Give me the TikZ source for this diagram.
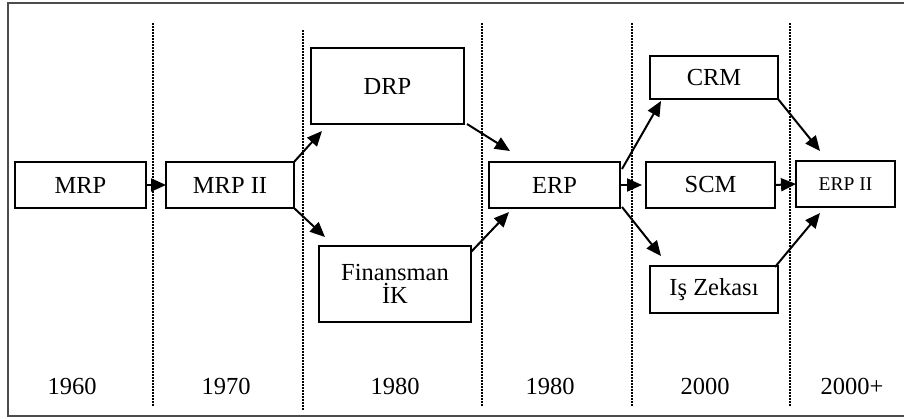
\documentclass[tikz,border=0pt]{standalone}
\usepackage{fontspec}
\setmainfont{Liberation Serif}
\usetikzlibrary{arrows.meta}
\begin{document}
\begin{tikzpicture}[x=1pt,y=-1pt,
  box/.style={draw=black, line width=2pt, fill=white, rectangle, inner sep=0pt, outer sep=0pt,
    align=center, font=\fontsize{24.5}{27}\selectfont},
  era/.style={dash pattern=on 1.5pt off 1.5pt, line width=2.2pt, black},
  arr/.style={line width=2pt, -{Triangle[length=15pt,width=13pt]}},
  yr/.style={font=\fontsize{24.5}{27}\selectfont, inner sep=0pt}]
\useasboundingbox (0,0) rectangle (904,418);
% outer frame (right edge runs past the page)
\draw[line width=2.4pt, black!70] (912,3) -- (8,3) -- (8,416) -- (912,416);
% era separators
\foreach \x/\t/\b in {153/23/406, 303/30/411, 482/23/406, 632/23/406, 790/23/406}
  \draw[era] (\x,\t) -- (\x,\b);
% systems
\node[box, minimum width=131pt, minimum height=46pt] (mrp)  at (80.5,185) {MRP};
\node[box, minimum width=128pt, minimum height=46pt] (mrp2) at (230,185) {MRP II};
\node[box, minimum width=153pt, minimum height=76pt] (drp)  at (387.5,86) {DRP};
\node[box, minimum width=152pt, minimum height=76pt] (fin)  at (395,284) {Finansman\\[-4pt]İK};
\node[box, minimum width=131pt, minimum height=46pt] (erp)  at (554.5,185) {ERP};
\node[box, minimum width=128pt, minimum height=43pt] (crm)  at (714,77.5) {CRM};
\node[box, minimum width=129pt, minimum height=46pt] (scm)  at (710.5,185) {SCM};
\node[box, minimum width=128pt, minimum height=47pt] (iz)   at (714,289.5) {Iş Zekası};
\node[box, minimum width=99pt, minimum height=46pt, font=\fontsize{19.5}{22}\selectfont] (erp2) at (845.5,184) {ERP II};
% decade labels
\node[yr] (y1) at (72,386) {1960};
\node[yr] (y2) at (226,386) {1970};
\node[yr] (y3) at (395,386) {1980};
\node[yr] (y4) at (550,386) {1980};
\node[yr] (y5) at (705,386) {2000};
\node[yr] (y6) at (852,386) {2000+};
% arrow tips that stop short of the target boxes
\coordinate (tDRP) at (322,131);
\coordinate (tFIN) at (325,237);
\coordinate (tERPa) at (510,151);
\coordinate (tERPb) at (509,212);
\coordinate (tCRM) at (661,101);
\coordinate (tIZ)  at (661,256);
\coordinate (tE2a) at (820,151);
\coordinate (tE2b) at (820,213);
% flows
\draw[arr] (mrp.east) -- (mrp2.west);
\draw[arr] (mrp2.north east) -- (tDRP);
\draw[arr] (mrp2.south east) -- (tFIN);
\draw[arr] ([xshift=3pt]drp.south east) -- (tERPa);
\draw[arr] ([yshift=-6pt]fin.north east) -- (tERPb);
\draw[arr] ([xshift=2pt,yshift=-7pt]erp.north east) -- (tCRM);
\draw[arr] ([xshift=2pt,yshift=1pt]erp.south east) -- (tIZ);
\draw[arr] (erp.east) -- ([xshift=-4pt]scm.west);
\draw[arr] (crm.south east) -- (tE2a);
\draw[arr] (scm.east) -- (erp2.west);
\draw[arr] ([xshift=-3pt,yshift=-1pt]iz.north east) -- (tE2b);
\end{tikzpicture}
\end{document}
